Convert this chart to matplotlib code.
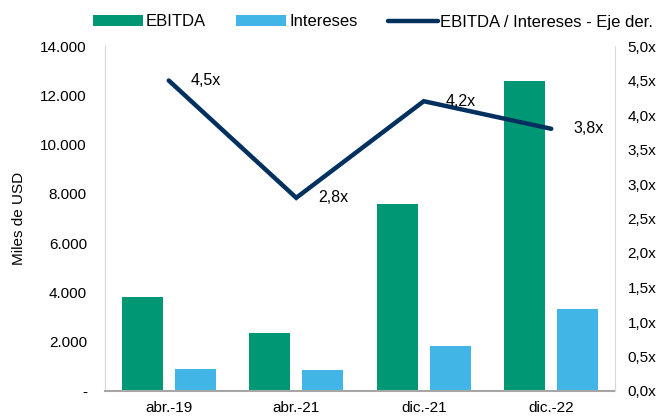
import numpy as np
import matplotlib
matplotlib.use("Agg")
import matplotlib.pyplot as plt
from matplotlib.ticker import FuncFormatter

plt.rcParams['font.family'] = ['Liberation Sans', 'DejaVu Sans']
plt.rcParams['font.size'] = 11

periodos = ['abr.-19', 'abr.-21', 'dic.-21', 'dic.-22']
ebitda = [3830, 2370, 7600, 12580]
intereses = [880, 850, 1830, 3310]
cobertura = [4.5, 2.8, 4.2, 3.8]
etiquetas = ['4,5x', '2,8x', '4,2x', '3,8x']

verde = '#009874'
celeste = '#41b6e6'
azul = '#00305e'

fig = plt.figure(figsize=(6.6, 4.19), dpi=100)
ax = fig.add_axes([105 / 660, 1 - 391 / 419, 510 / 660, 345 / 419])
ax2 = ax.twinx()

x = np.arange(len(periodos))
w = 0.325
off = 0.208
b1 = ax.bar(x - off, ebitda, w, color=verde, label='EBITDA')
b2 = ax.bar(x + off, intereses, w, color=celeste, label='Intereses')
l1, = ax2.plot(x, cobertura, color=azul, lw=3.2, solid_capstyle='round',
               solid_joinstyle='miter', label='EBITDA / Intereses - Eje der.')

for xi, yi, t in zip(x, cobertura, etiquetas):
    ax2.annotate(t, (xi, yi), xytext=(16, 0), textcoords='offset points',
                 va='center', ha='left', fontsize=11.5)

ax.set_xlim(-0.5, 3.5)
ax.set_ylim(0, 14000)
ax.set_yticks(np.arange(0, 14001, 2000))
ax.yaxis.set_major_formatter(FuncFormatter(
    lambda v, p: '-' if v == 0 else f"{v:,.0f}".replace(',', '.')))
ax2.set_ylim(0, 5)
ax2.set_yticks(np.arange(0, 5.01, 0.5))
ax2.yaxis.set_major_formatter(FuncFormatter(
    lambda v, p: f"{v:.1f}x".replace('.', ',')))

ax.set_xticks(x)
ax.set_xticklabels(periodos)
ax.tick_params(axis='y', length=0, pad=13)
ax.tick_params(axis='x', length=0, pad=7)
ax2.tick_params(axis='y', length=0, pad=9)
ax.set_ylabel('Miles de USD', labelpad=10)

for s in ['top', 'right']:
    ax.spines[s].set_visible(False)
for s in ['top', 'left', 'bottom']:
    ax2.spines[s].set_visible(False)
ax.spines['left'].set_color('#d9d9d9')
ax2.spines['right'].set_color('#d9d9d9')
ax.spines['bottom'].set_color('#a6a6a6')
ax.spines['bottom'].set_linewidth(1.5)

fig.legend([b1, b2, l1], ['EBITDA', 'Intereses', 'EBITDA / Intereses - Eje der.'],
           loc='center left', bbox_to_anchor=(93 / 660, 1 - 22 / 419), ncol=3,
           frameon=False, borderpad=0, borderaxespad=0,
           handlelength=3.0, handletextpad=0.18, columnspacing=1.8, fontsize=12)

fig.savefig('out.png', dpi=100)
